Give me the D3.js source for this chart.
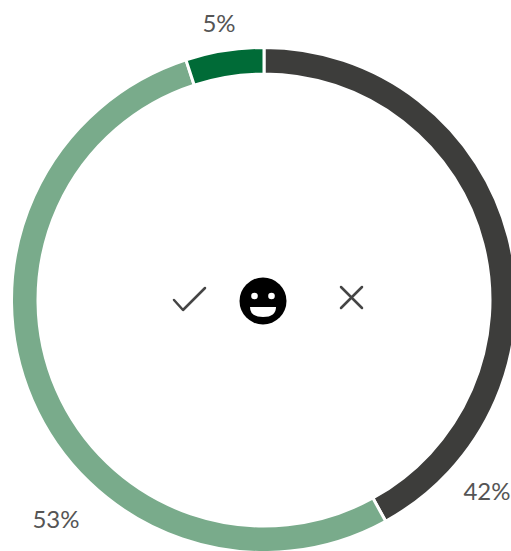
<!DOCTYPE html>
<html><head><meta charset="utf-8">
<script src="https://cdn.jsdelivr.net/npm/d3@7"></script>
<style>html,body{margin:0;padding:0;background:#fff;overflow:hidden}svg{display:block}</style>
</head><body><svg id="c" width="511" height="551"></svg>
<script>
const categories = ["No", "Yes", "Neutral"];
const values = [42, 53, 5];
const labels = ["42%", "53%", "5%"];
const colors = ["#3d3d3b", "#79ab8b", "#006b37"];
const labelAnchors = [[487, 490], [56, 518], [219, 22]];

const svg = d3.select("#c");
const g = svg.append("g").attr("transform", "translate(264,300)");
const pie = d3.pie().sort(null)(values);
const arc = d3.arc().innerRadius(226).outerRadius(252.5);
g.selectAll("path").data(pie).join("path")
  .attr("d", arc).attr("fill", (d, i) => colors[i])
  .attr("stroke", "#fff").attr("stroke-width", 3);
svg.selectAll("text.l").data(labels).join("text").attr("class", "l")
  .attr("x", (d, i) => labelAnchors[i][0]).attr("y", (d, i) => labelAnchors[i][1])
  .attr("text-anchor", "middle").attr("dominant-baseline", "central")
  .attr("font-family", "Lato").attr("font-weight", 400).attr("font-size", 24)
  .attr("fill", "#555").text(d => d);

const icons = svg.append("g").attr("fill", "none").attr("stroke", "#454545")
  .attr("stroke-width", 2.5).attr("stroke-linecap", "round").attr("stroke-linejoin", "round");
icons.append("path").attr("d", "M174 300L183 310L205 288");
icons.append("path").attr("d", "M341 287L362 308M362 287L341 308");
svg.append("circle").attr("cx", 263).attr("cy", 301).attr("r", 23.5).attr("fill", "#000");
svg.append("circle").attr("cx", 254.5).attr("cy", 296).attr("r", 3.3).attr("fill", "#fff");
svg.append("circle").attr("cx", 271.5).attr("cy", 296).attr("r", 3.3).attr("fill", "#fff");
svg.append("path").attr("d", "M250 307L276 307Q276 317 263 317Q250 317 250 307Z").attr("fill", "#fff");
</script></body></html>
